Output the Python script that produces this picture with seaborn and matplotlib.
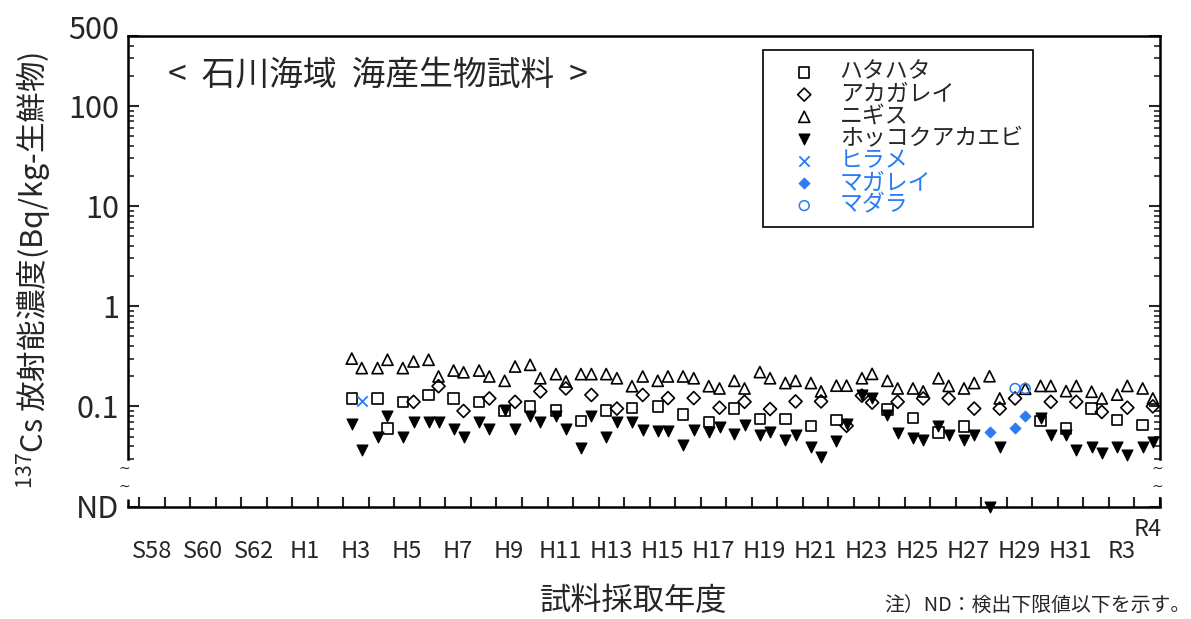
import numpy as np
import matplotlib
matplotlib.use('Agg')
import matplotlib.pyplot as plt
import matplotlib.ticker as ticker
import matplotlib.transforms as mtransforms
import seaborn as sns

sns.set_style('ticks')
plt.rcParams['font.family'] = ['Noto Sans CJK JP', 'DejaVu Sans']
plt.rcParams['axes.unicode_minus'] = False
plt.rcParams['mathtext.fontset'] = 'custom'
plt.rcParams['mathtext.rm'] = 'Noto Sans CJK JP'
plt.rcParams['mathtext.default'] = 'regular'

BLUE = '#2b7bf5'
ND_POS = 0.01  # ND はこの位置に描く

# 年度ラベル
year_ticks = [1983, 1985, 1987, 1989, 1991, 1993, 1995, 1997, 1999, 2001,
              2003, 2005, 2007, 2009, 2011, 2013, 2015, 2017, 2019, 2021, 2022]
year_labels = ['S58', 'S60', 'S62', 'H1', 'H3', 'H5', 'H7', 'H9', 'H11', 'H13',
               'H15', 'H17', 'H19', 'H21', 'H23', 'H25', 'H27', 'H29', 'H31', 'R3', 'R4']

# ハタハタ
hatahata_x = [1990.83, 1991.84, 1992.23, 1992.83, 1993.84, 1994.82, 1995.82, 1996.82,
              1997.82, 1998.83, 1999.81, 2000.80, 2001.81, 2002.82, 2003.81, 2004.82,
              2005.82, 2006.82, 2007.82, 2008.82, 2009.82, 2011.82, 2012.82, 2013.82,
              2014.82, 2017.82, 2018.82, 2019.82, 2020.82, 2021.82]
hatahata_v = [0.12, 0.12, 0.060, 0.11, 0.13, 0.12, 0.11, 0.090,
              0.10, 0.091, 0.072, 0.091, 0.097, 0.10, 0.083, 0.070,
              0.095, 0.075, 0.075, 0.064, 0.073, 0.093, 0.077, 0.055,
              0.063, 0.071, 0.060, 0.095, 0.073, 0.065]

# アカガレイ
akagarei_x = [1993.25, 1994.23, 1995.21, 1996.22, 1997.23, 1998.22, 1999.22, 2000.22,
              2001.22, 2002.23, 2003.22, 2004.23, 2005.24, 2006.22, 2007.22, 2008.22,
              2009.22, 2010.22, 2010.82, 2011.22, 2012.22, 2013.22, 2014.22, 2015.22,
              2016.22, 2016.82, 2018.22, 2019.22, 2020.22, 2021.22, 2022.22]
akagarei_v = [0.111, 0.159, 0.090, 0.12, 0.111, 0.141, 0.151, 0.13,
              0.095, 0.13, 0.121, 0.121, 0.097, 0.111, 0.094, 0.112,
              0.112, 0.064, 0.128, 0.109, 0.111, 0.12, 0.12, 0.095,
              0.095, 0.12, 0.111, 0.111, 0.088, 0.097, 0.10]

# ニギス
nigisu_x = [1990.83, 1991.22, 1991.84, 1992.23, 1992.83, 1993.25, 1993.84, 1994.23,
            1994.82, 1995.21, 1995.82, 1996.22, 1996.82, 1997.23, 1997.82, 1998.22,
            1998.83, 1999.22, 1999.81, 2000.22, 2000.80, 2001.22, 2001.81, 2002.23,
            2002.82, 2003.22, 2003.81, 2004.23, 2004.82, 2005.24, 2005.82, 2006.22,
            2006.82, 2007.22, 2007.82, 2008.22, 2008.82, 2009.22, 2009.82, 2010.22,
            2010.82, 2011.22, 2011.82, 2012.22, 2012.82, 2013.22, 2013.82, 2014.22,
            2014.82, 2015.22, 2015.82, 2016.22, 2017.22, 2017.82, 2018.22, 2018.82,
            2019.22, 2019.82, 2020.22, 2020.82, 2021.22, 2021.82, 2022.22]
nigisu_v = [0.30, 0.241, 0.241, 0.292, 0.241, 0.281, 0.292, 0.199,
            0.228, 0.219, 0.228, 0.199, 0.18, 0.25, 0.26, 0.191,
            0.21, 0.177, 0.21, 0.21, 0.21, 0.191, 0.159, 0.199,
            0.18, 0.199, 0.199, 0.191, 0.159, 0.151, 0.18, 0.151,
            0.22, 0.191, 0.171, 0.18, 0.171, 0.141, 0.161, 0.161,
            0.191, 0.211, 0.18, 0.151, 0.151, 0.141, 0.191, 0.16,
            0.151, 0.171, 0.20, 0.12, 0.15, 0.16, 0.16, 0.142,
            0.16, 0.14, 0.12, 0.131, 0.16, 0.151, 0.12]

# ホッコクアカエビ (None = ND)
ebi_x = [1990.83, 1991.22, 1991.84, 1992.23, 1992.83, 1993.25, 1993.84, 1994.23,
         1994.82, 1995.21, 1995.82, 1996.22, 1996.82, 1997.23, 1997.82, 1998.22,
         1998.83, 1999.22, 1999.81, 2000.22, 2000.80, 2001.22, 2001.81, 2002.23,
         2002.82, 2003.22, 2003.81, 2004.23, 2004.82, 2005.24, 2005.82, 2006.22,
         2006.82, 2007.22, 2007.82, 2008.22, 2008.82, 2009.22, 2009.82, 2010.22,
         2010.82, 2011.22, 2011.82, 2012.22, 2012.82, 2013.22, 2013.82, 2014.22,
         2014.82, 2015.22, 2015.82, 2016.22, 2017.82, 2018.22, 2018.82, 2019.22,
         2019.82, 2020.22, 2020.82, 2021.22, 2021.82, 2022.22]
ebi_v = [0.067, 0.037, 0.050, 0.080, 0.050, 0.070, 0.070, 0.070,
         0.060, 0.050, 0.070, 0.060, 0.092, 0.060, 0.080, 0.070,
         0.080, 0.060, 0.038, 0.080, 0.050, 0.070, 0.070, 0.058,
         0.057, 0.057, 0.041, 0.058, 0.055, 0.062, 0.053, 0.065,
         0.052, 0.055, 0.046, 0.052, 0.039, 0.031, 0.045, 0.067,
         0.131, 0.120, 0.082, 0.054, 0.048, 0.046, 0.063, 0.052,
         0.046, 0.052, None, 0.039, 0.077, 0.052, 0.052, 0.037,
         0.039, 0.034, 0.039, 0.033, 0.039, 0.044]

# ヒラメ / マガレイ / マダラ
hirame_x = [1991.22]
hirame_v = [0.112]
magarei_x = [2015.82, 2016.82, 2017.22]
magarei_v = [0.055, 0.061, 0.081]
madara_x = [2016.82, 2017.22]
madara_v = [0.151, 0.151]


def nd(vals):
    return [ND_POS if v is None else v for v in vals]


fig = plt.figure(figsize=(11.91, 6.19), dpi=100)
ax = fig.add_axes([127.7 / 1191, 1 - 506.5 / 619, (1160 - 127.7) / 1191, (506.5 - 36) / 619])

common = dict(ax=ax, clip_on=False, zorder=3)
sns.scatterplot(x=hatahata_x, y=hatahata_v, marker='s', s=55, facecolor='none',
                edgecolor='black', linewidth=1.2, label='ハタハタ', **common)
sns.scatterplot(x=akagarei_x, y=akagarei_v, marker='D', s=44, facecolor='none',
                edgecolor='black', linewidth=1.2, label='アカガレイ', **common)
sns.scatterplot(x=nigisu_x, y=nigisu_v, marker='^', s=64, facecolor='none',
                edgecolor='black', linewidth=1.2, label='ニギス', **common)
sns.scatterplot(x=ebi_x, y=nd(ebi_v), marker='v', s=62, color='black',
                edgecolor='black', linewidth=0.8, label='ホッコクアカエビ', **common)
sns.scatterplot(x=hirame_x, y=hirame_v, marker='x', s=55, color=BLUE,
                linewidth=1.3, label='ヒラメ', **common)
sns.scatterplot(x=magarei_x, y=magarei_v, marker='D', s=30, color=BLUE,
                edgecolor=BLUE, linewidth=0.8, label='マガレイ', **common)
sns.scatterplot(x=madara_x, y=madara_v, marker='o', s=50, facecolor='none',
                edgecolor=BLUE, linewidth=1.1, label='マダラ', **common)

# 軸
ax.set_yscale('log')
ax.set_ylim(ND_POS, 500)
ax.set_xlim(1982.05, 2022.5)
ax.set_yticks([ND_POS, 0.1, 1, 10, 100, 500], ['ND', '0.1', '1', '10', '100', '500'])
minor = np.concatenate([np.arange(3, 10) * 0.01, np.arange(2, 10) * 0.1, np.arange(2, 10),
                        np.arange(2, 10) * 10, np.arange(2, 5) * 100])
ax.yaxis.set_minor_locator(ticker.FixedLocator(minor))
ax.yaxis.set_minor_formatter(ticker.NullFormatter())
ax.set_xticks(np.arange(1982.5, 2023, 1.0))
ax.xaxis.set_major_formatter(ticker.NullFormatter())
ax.set_xticks(year_ticks, year_labels, minor=True)

ax.tick_params(axis='y', which='both', direction='in', left=True, right=True,
               labelsize=22, pad=6)
ax.tick_params(axis='y', which='major', length=8, width=1.5)
ax.tick_params(axis='y', which='minor', length=4.5, width=1.2)
ax.tick_params(axis='x', which='major', direction='in', length=7.5, width=1.5,
               bottom=True, top=False)
ax.tick_params(axis='x', which='minor', length=0, labelsize=17, pad=24)

for side in ['left', 'right', 'top', 'bottom']:
    ax.spines[side].set_linewidth(1.8)
    ax.spines[side].set_color('black')
ax.spines['left'].set_bounds(0.03, 500)
ax.spines['right'].set_bounds(0.03, 500)

# R4 ラベルは少し上へ、500 ラベルも少し上へ
up_r4 = mtransforms.ScaledTranslation(0, 0.22, fig.dpi_scale_trans)
for lab in ax.get_xticklabels(minor=True):
    if lab.get_text() == 'R4':
        lab.set_transform(lab.get_transform() + up_r4)
up_500 = mtransforms.ScaledTranslation(0, 0.09, fig.dpi_scale_trans)
for lab in ax.get_yticklabels():
    if lab.get_text() == '500':
        lab.set_transform(lab.get_transform() + up_500)

# 軸の省略記号と ND 部分の縦線
blend = mtransforms.blended_transform_factory(ax.transAxes, ax.transData)
for xa in (0, 1):
    ax.plot([xa, xa], [ND_POS, 0.0118 if xa == 0 else 0.0125], transform=blend,
            color='black', lw=1.8, clip_on=False, solid_capstyle='butt')
    for yb in (0.0237, 0.0157):
        ax.text(xa - 0.003, yb, '~', transform=blend, ha='center', va='center',
                fontsize=10, family='DejaVu Sans')

ax.set_ylabel('$^{137}$Cs 放射能濃度(Bq/kg-生鮮物)', fontsize=22)
ax.yaxis.set_label_coords(-0.071, 0.503)
ax.set_xlabel('試料採取年度', fontsize=22.5)
ax.xaxis.set_label_coords(0.4905, -0.2)
ax.xaxis.label.set_va('center')

ax.text(0.039, 0.917, '<  石川海域  海産生物試料  >', transform=ax.transAxes,
        fontsize=24.3, va='center', ha='left')
fig.text(0.9992, 1 - 605 / 619, '注）ND：検出下限値以下を示す。', ha='right',
         va='center', fontsize=14.3)

leg = ax.legend(loc='upper left', bbox_to_anchor=(0.6154, 0.970), frameon=True,
                fancybox=False, edgecolor='black', framealpha=1, fontsize=16.5,
                borderpad=0.45, handlelength=2.7, handletextpad=0.2,
                labelspacing=-0.035, borderaxespad=0, scatterpoints=1)
leg.get_frame().set_linewidth(1.2)
for t in leg.get_texts()[4:]:
    t.set_color(BLUE)

fig.savefig('out.png', dpi=100)
